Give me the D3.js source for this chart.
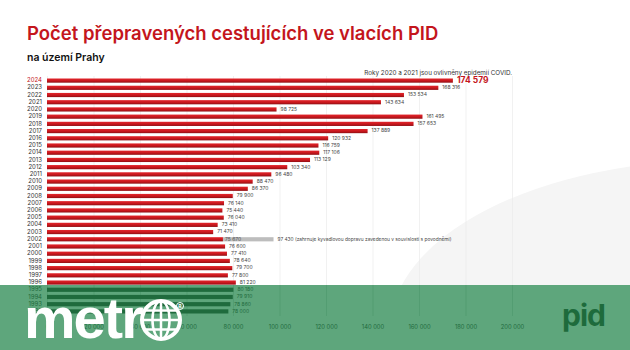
<!DOCTYPE html>
<html>
<head>
<meta charset="utf-8">
<script src="https://cdn.jsdelivr.net/npm/d3@7"></script>
<style>
  body { margin: 0; background: #fff; }
  svg { display: block; font-family: Inter, "Open Sans", sans-serif; }
</style>
</head>
<body>
<div id="chart"></div>
<script>
// PID rail passengers within Prague, per year
const years = [2024, 2023, 2022, 2021, 2020, 2019, 2018, 2017, 2016, 2015, 2014, 2013, 2012, 2011,
  2010, 2009, 2008, 2007, 2006, 2005, 2004, 2003, 2002, 2001, 2000, 1999, 1998, 1997, 1996,
  1995, 1994, 1993, 1992];
const passengers = [174579, 168316, 153534, 143634, 98725, 161495, 157653, 137889, 120932, 116759,
  117106, 113129, 103340, 96480, 88470, 86370, 79900, 76140, 75440, 76040, 73410, 71470, 75670,
  76600, 77410, 78640, 79700, 77800, 81220, 80180, 79910, 78860, 78000];
const floodYear = 2002;
const floodValue = 97430;
const floodNote = '(zahrnuje kyvadlovou dopravu zavedenou v souvislosti s povodněmi)';
const xTicks = [0, 20000, 40000, 60000, 80000, 100000, 120000, 140000, 160000, 180000, 200000];

const W = 630, H = 350;
const bandTop = 285;
const fmt = v => d3.format(',')(v).replace(/,/g, ' ');

const svg = d3.select('#chart').append('svg')
  .attr('width', W).attr('height', H);

const defs = svg.append('defs');
const grad = defs.append('linearGradient').attr('id', 'barGrad')
  .attr('x1', 0).attr('y1', 0).attr('x2', 0).attr('y2', 1);
grad.append('stop').attr('offset', '0%').attr('stop-color', '#e2262c');
grad.append('stop').attr('offset', '55%').attr('stop-color', '#c8171d');
grad.append('stop').attr('offset', '100%').attr('stop-color', '#8f0f14');
defs.append('clipPath').attr('id', 'bandClip')
  .append('rect').attr('x', 0).attr('y', bandTop).attr('width', W).attr('height', H - bandTop);

// soft background shape
svg.append('ellipse')
  .attr('cx', 720).attr('cy', 330).attr('rx', 330).attr('ry', 170)
  .attr('fill', '#f5f5f5');

svg.append('text')
  .attr('x', 27).attr('y', 40)
  .attr('fill', '#c4161c').attr('font-size', '18.5px').attr('font-weight', 600)
  .text('Počet přepravených cestujících ve vlacích PID');

svg.append('text')
  .attr('x', 27).attr('y', 61)
  .attr('fill', '#111').attr('font-size', '10.5px').attr('font-weight', 600)
  .text('na území Prahy');

svg.append('text')
  .attr('x', 512).attr('y', 75)
  .attr('text-anchor', 'end')
  .attr('fill', '#333').attr('font-size', '6.3px')
  .text('Roky 2020 a 2021 jsou ovlivněny epidemií COVID.');

const x = d3.scaleLinear().domain([0, 200000]).range([47, 512]);
const y = d3.scaleBand().domain(years).range([78.5, 313.5]).paddingInner(0.42);

const data = years.map((yr, i) => ({ year: yr, value: passengers[i] }));

function drawChart(g, mono) {
  // gridlines
  g.append('g')
    .attr('transform', 'translate(0,316)')
    .call(d3.axisBottom(x).tickValues(xTicks).tickSize(-240).tickFormat(''))
    .call(a => a.select('.domain').remove())
    .call(a => a.selectAll('line').attr('stroke', mono ? '#4f9a6e' : '#ebebeb').attr('stroke-width', 0.7));

  // tick labels
  g.append('g')
    .attr('transform', 'translate(0,316)')
    .call(d3.axisBottom(x).tickValues(xTicks).tickSize(0).tickPadding(9).tickFormat(fmt))
    .call(a => a.select('.domain').remove())
    .call(a => a.selectAll('text')
      .attr('font-size', '5.8px').attr('fill', mono ? '#1f6b3d' : '#444')
      .attr('font-family', 'Inter, sans-serif'));

  // flood extension for 2002
  const fy = y(floodYear);
  const fv = data.find(d => d.year === floodYear).value;
  g.append('rect')
    .attr('x', x(fv)).attr('y', fy)
    .attr('width', x(floodValue) - x(fv)).attr('height', y.bandwidth())
    .attr('fill', mono ? '#1f6b3d' : '#bdbdbd');
  g.append('text')
    .attr('x', x(floodValue) + 4).attr('y', fy + y.bandwidth() / 2)
    .attr('dominant-baseline', 'middle')
    .attr('font-size', '4.8px').attr('fill', mono ? '#1f6b3d' : '#444')
    .text(fmt(floodValue) + ' ' + floodNote);

  g.selectAll('.bar').data(data).join('rect')
    .attr('class', 'bar')
    .attr('x', x(0)).attr('y', d => y(d.year))
    .attr('width', d => x(d.value) - x(0))
    .attr('height', y.bandwidth())
    .attr('fill', mono ? '#1f6b3d' : 'url(#barGrad)');

  g.selectAll('.year').data(data).join('text')
    .attr('class', 'year')
    .attr('x', 42).attr('y', d => y(d.year) + y.bandwidth() / 2)
    .attr('text-anchor', 'end').attr('dominant-baseline', 'middle')
    .attr('font-size', '6px')
    .attr('fill', d => mono ? '#1f6b3d' : (d.year === 2024 ? '#c4161c' : '#333'))
    .text(d => d.year);

  g.selectAll('.val').data(data).join('text')
    .attr('class', 'val')
    .attr('x', d => x(d.value) + (d.year === 2024 ? 4 : 4))
    .attr('y', d => y(d.year) + y.bandwidth() / 2)
    .attr('dominant-baseline', 'middle')
    .attr('font-size', d => d.year === 2024 ? '8.5px' : '5px')
    .attr('font-weight', d => d.year === 2024 ? 700 : 400)
    .attr('fill', d => mono ? '#1f6b3d' : (d.year === 2024 ? '#c4161c' : '#444'))
    .text(d => d.year === floodYear ? '' : fmt(d.value));

  // 2002 value label overlaps grey bar
  g.append('text')
    .attr('x', x(fv) + 2).attr('y', fy + y.bandwidth() / 2)
    .attr('dominant-baseline', 'middle')
    .attr('font-size', '5px').attr('fill', mono ? '#1f6b3d' : '#555')
    .text(fmt(fv));
}

drawChart(svg.append('g'), false);

// green watermark band
svg.append('rect')
  .attr('x', 0).attr('y', bandTop).attr('width', W).attr('height', H - bandTop)
  .attr('fill', '#5ea67c');
drawChart(svg.append('g').attr('clip-path', 'url(#bandClip)'), true);

// metro logo
const logo = svg.append('g');
logo.append('text')
  .attr('x', 24).attr('y', 338)
  .attr('fill', '#fff').attr('font-size', '58px').attr('font-weight', 700)
  .attr('font-family', '"Liberation Sans", Arial, sans-serif')
  .attr('letter-spacing', '-2px')
  .text('metr');
const gx = 161, gy = 320, gr = 19;
logo.append('circle').attr('cx', gx).attr('cy', gy).attr('r', gr)
  .attr('fill', 'none').attr('stroke', '#fff').attr('stroke-width', 4);
logo.append('ellipse').attr('cx', gx).attr('cy', gy).attr('rx', gr * 0.45).attr('ry', gr)
  .attr('fill', 'none').attr('stroke', '#fff').attr('stroke-width', 2.5);
logo.append('line').attr('x1', gx).attr('x2', gx).attr('y1', gy - gr).attr('y2', gy + gr)
  .attr('stroke', '#fff').attr('stroke-width', 2.5);
[-0.5, 0, 0.5].forEach(k => {
  const yy = gy + k * gr;
  const hw = Math.sqrt(gr * gr - (k * gr) * (k * gr));
  logo.append('line').attr('x1', gx - hw).attr('x2', gx + hw).attr('y1', yy).attr('y2', yy)
    .attr('stroke', '#fff').attr('stroke-width', 2.5);
});
logo.append('circle').attr('cx', 180).attr('cy', 306).attr('r', 3.5)
  .attr('fill', 'none').attr('stroke', '#fff').attr('stroke-width', 1);
logo.append('text').attr('x', 180).attr('y', 307.8).attr('text-anchor', 'middle')
  .attr('font-size', '5px').attr('fill', '#fff').attr('font-weight', 700).text('R');

svg.append('text')
  .attr('x', 562).attr('y', 326)
  .attr('fill', '#1e6b3c').attr('font-size', '30px').attr('font-weight', 700)
  .attr('font-family', 'Inter, sans-serif')
  .attr('letter-spacing', '-1px')
  .text('pid');
</script>
</body>
</html>
